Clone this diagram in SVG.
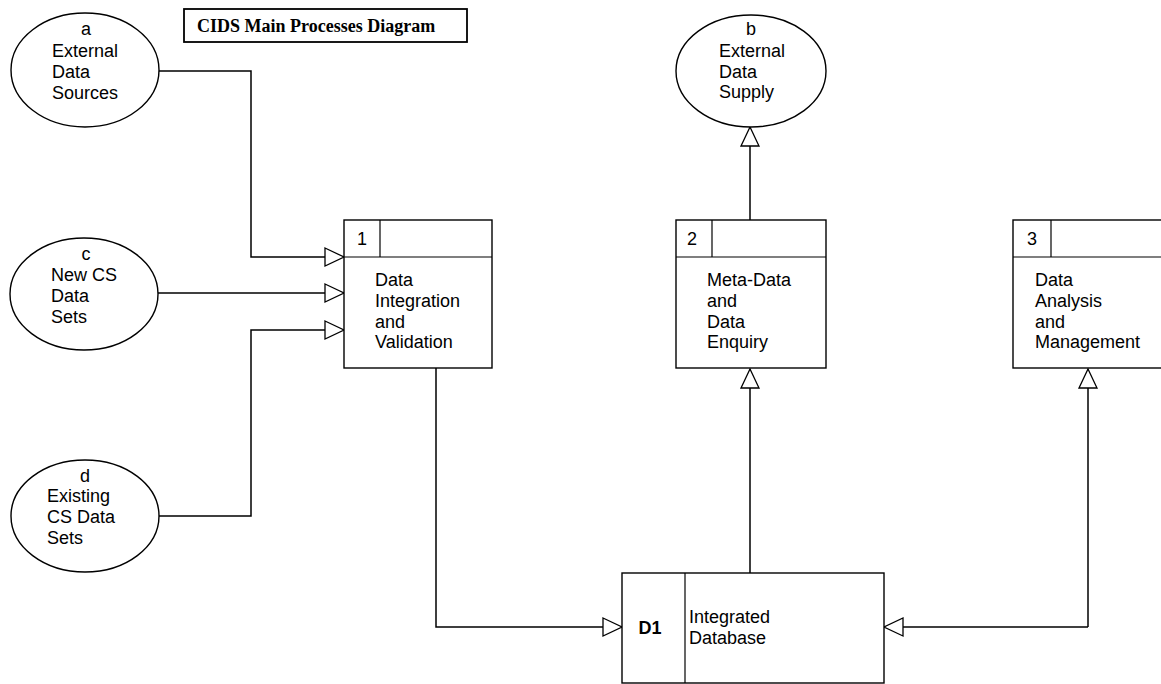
<svg xmlns="http://www.w3.org/2000/svg" width="1161" height="684" viewBox="0 0 1161 684">
  <style>
    .bg { fill: #ffffff; }
    .shape { fill: #ffffff; stroke: #000000; stroke-width: 1.4; }
    .div { fill: none; stroke: #000000; stroke-width: 1.2; }
    .flow { fill: none; stroke: #000000; stroke-width: 1.5; }
    .lbl { font-family: "Liberation Sans", Arial, Helvetica, sans-serif; font-size: 18px; fill: #000000; }
    .mid { text-anchor: middle; }
    .bold { font-weight: bold; }
    .title { font-family: "Liberation Serif", "Times New Roman", serif; font-size: 18px; font-weight: bold; fill: #000000; }
  </style>
  <defs>
    <marker id="open-arrow" markerUnits="userSpaceOnUse" markerWidth="24" markerHeight="24" refX="19" refY="9" orient="auto" overflow="visible">
      <path d="M0,0 L19,9 L0,18 Z" fill="#ffffff" stroke="#000000" stroke-width="1.3" stroke-linejoin="miter"/>
    </marker>
  </defs>

  <rect class="bg" x="0" y="0" width="1161" height="684"/>

  <!-- title -->
  <g id="title">
    <rect x="184" y="9" width="283" height="33" fill="#ffffff" stroke="#000000" stroke-width="1.8"/>
    <text class="title" x="197" y="32">CIDS Main Processes Diagram</text>
  </g>

  <!-- connectors -->
  <g id="connectors">
    <path class="flow" d="M159,71 H251 V257 H344" marker-end="url(#open-arrow)"/>
    <path class="flow" d="M158,293 H344" marker-end="url(#open-arrow)"/>
    <path class="flow" d="M158,516 H251 V330 H344" marker-end="url(#open-arrow)"/>
    <path class="flow" d="M750,220 V127" marker-end="url(#open-arrow)"/>
    <path class="flow" d="M436,368 V627 H622" marker-end="url(#open-arrow)"/>
    <path class="flow" d="M750,573 V369" marker-end="url(#open-arrow)"/>
    <path class="flow" d="M1088,627 H884" marker-end="url(#open-arrow)"/>
    <path class="flow" d="M1088,627 V369" marker-end="url(#open-arrow)"/>
  </g>

  <!-- external entity a -->
  <g id="ext-a">
    <ellipse class="shape" cx="85" cy="70" rx="74" ry="57"/>
    <text class="lbl mid" x="86" y="35">a</text>
    <text class="lbl" x="52" y="57">External</text>
    <text class="lbl" x="52" y="78">Data</text>
    <text class="lbl" x="52" y="99">Sources</text>
  </g>

  <!-- external entity b -->
  <g id="ext-b">
    <ellipse class="shape" cx="751" cy="71" rx="75" ry="56"/>
    <text class="lbl mid" x="751" y="35">b</text>
    <text class="lbl" x="719" y="57">External</text>
    <text class="lbl" x="719" y="78">Data</text>
    <text class="lbl" x="719" y="98">Supply</text>
  </g>

  <!-- external entity c -->
  <g id="ext-c">
    <ellipse class="shape" cx="84" cy="294" rx="74" ry="56"/>
    <text class="lbl mid" x="86" y="260">c</text>
    <text class="lbl" x="51" y="281">New CS</text>
    <text class="lbl" x="51" y="302">Data</text>
    <text class="lbl" x="51" y="323">Sets</text>
  </g>

  <!-- external entity d -->
  <g id="ext-d">
    <ellipse class="shape" cx="85" cy="516" rx="74" ry="56"/>
    <text class="lbl mid" x="85" y="482">d</text>
    <text class="lbl" x="47" y="502">Existing</text>
    <text class="lbl" x="47" y="523">CS Data</text>
    <text class="lbl" x="47" y="544">Sets</text>
  </g>

  <!-- process 1 -->
  <g id="proc-1">
    <rect class="shape" x="344" y="220" width="148" height="148"/>
    <line class="div" x1="344" y1="257" x2="492" y2="257"/>
    <line class="div" x1="380" y1="220" x2="380" y2="257"/>
    <text class="lbl mid" x="362" y="245">1</text>
    <text class="lbl" x="375" y="286">Data</text>
    <text class="lbl" x="375" y="307">Integration</text>
    <text class="lbl" x="375" y="328">and</text>
    <text class="lbl" x="375" y="348">Validation</text>
  </g>

  <!-- process 2 -->
  <g id="proc-2">
    <rect class="shape" x="676" y="220" width="150" height="148"/>
    <line class="div" x1="676" y1="257" x2="826" y2="257"/>
    <line class="div" x1="712" y1="220" x2="712" y2="257"/>
    <text class="lbl" x="687" y="245">2</text>
    <text class="lbl" x="707" y="286">Meta-Data</text>
    <text class="lbl" x="707" y="307">and</text>
    <text class="lbl" x="707" y="328">Data</text>
    <text class="lbl" x="707" y="348">Enquiry</text>
  </g>

  <!-- process 3 -->
  <g id="proc-3">
    <rect class="shape" x="1013" y="220" width="150" height="148"/>
    <line class="div" x1="1013" y1="257" x2="1163" y2="257"/>
    <line class="div" x1="1051" y1="220" x2="1051" y2="257"/>
    <text class="lbl" x="1027" y="245">3</text>
    <text class="lbl" x="1035" y="286">Data</text>
    <text class="lbl" x="1035" y="307">Analysis</text>
    <text class="lbl" x="1035" y="328">and</text>
    <text class="lbl" x="1035" y="348">Management</text>
  </g>

  <!-- data store D1 -->
  <g id="store-d1">
    <rect class="shape" x="622" y="573" width="262" height="110"/>
    <line class="div" x1="685" y1="573" x2="685" y2="683"/>
    <text class="lbl mid bold" x="650" y="634">D1</text>
    <text class="lbl" x="689" y="623">Integrated</text>
    <text class="lbl" x="689" y="644">Database</text>
  </g>
</svg>
